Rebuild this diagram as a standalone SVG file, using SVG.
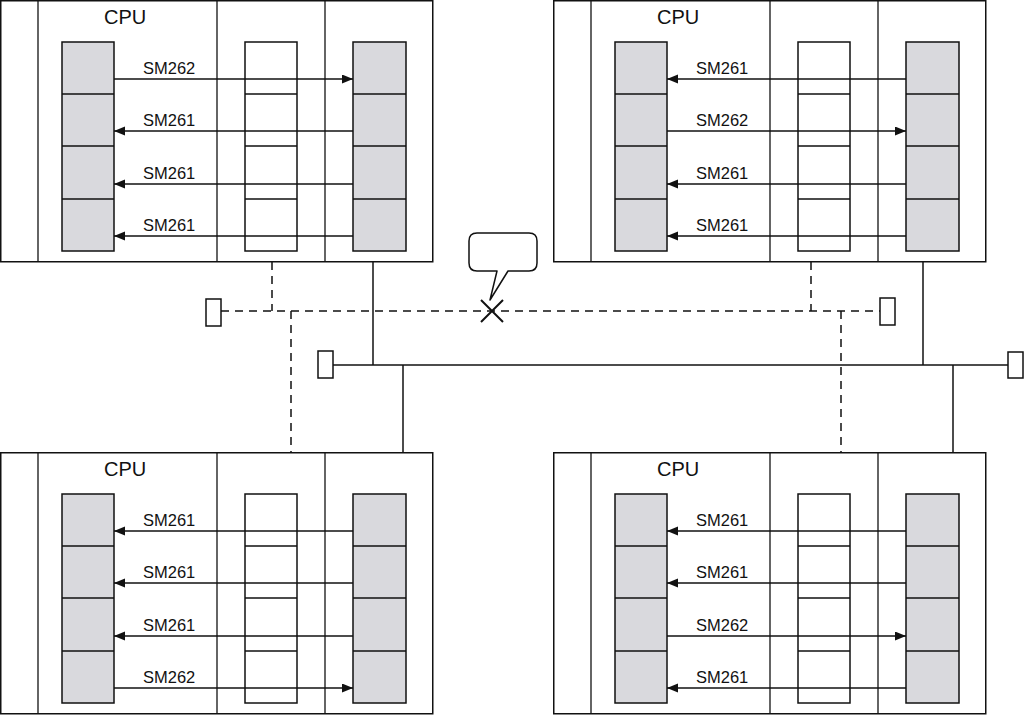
<svg xmlns="http://www.w3.org/2000/svg" xmlns:xlink="http://www.w3.org/1999/xlink" width="1024" height="715" viewBox="0 0 1024 715">
<style>
.frame{fill:#fff;stroke:#111;stroke-width:1.5}
.div{stroke:#111;stroke-width:1.3;fill:none}
.gray{fill:#d9d9dd;stroke:#111;stroke-width:1.5}
.white{fill:#fff;stroke:#111;stroke-width:1.5}
.sep{stroke:#111;stroke-width:1.3}
.arr{stroke:#111;stroke-width:1.3;fill:none}
.cpu{font-family:"Liberation Sans",Arial,sans-serif;font-size:20px;fill:#111}
.lbl{font-family:"Liberation Sans",Arial,sans-serif;font-size:16.5px;fill:#111}
.solid{stroke:#111;stroke-width:1.5;fill:none}
.dash{stroke:#111;stroke-width:1.5;fill:none;stroke-dasharray:8,6}
.term{fill:#fff;stroke:#111;stroke-width:1.5}
</style>
<defs>
<marker id="ah" markerUnits="userSpaceOnUse" markerWidth="12" markerHeight="10" refX="11" refY="4.5" orient="auto">
<path d="M0,0 L11,4.5 L0,9 z" fill="#111"/>
</marker>
<g id="frame">
<rect class="frame" x="0.75" y="0.75" width="432" height="261"/>
<line class="div" x1="38" y1="1" x2="38" y2="262"/>
<line class="div" x1="217" y1="1" x2="217" y2="262"/>
<line class="div" x1="325" y1="1" x2="325" y2="262"/>
<rect class="gray" x="62" y="42" width="52" height="209"/>
<rect class="white" x="245" y="42" width="52" height="209"/>
<rect class="gray" x="353" y="42" width="53" height="209"/>
<path class="sep" d="M62,94H114M62,146H114M62,199H114M245,94H297M245,146H297M245,199H297M353,94H406M353,146H406M353,199H406"/>
<text class="cpu" x="104" y="24">CPU</text>
</g>
</defs>

<g id="cpu-top-left">
<use xlink:href="#frame"/>
<line class="arr" x1="114" y1="79" x2="353" y2="79" marker-end="url(#ah)"/>
<line class="arr" x1="353" y1="131" x2="114" y2="131" marker-end="url(#ah)"/>
<line class="arr" x1="353" y1="184" x2="114" y2="184" marker-end="url(#ah)"/>
<line class="arr" x1="353" y1="236" x2="114" y2="236" marker-end="url(#ah)"/>
<text class="lbl" x="143" y="74">SM262</text>
<text class="lbl" x="143" y="126">SM261</text>
<text class="lbl" x="143" y="179">SM261</text>
<text class="lbl" x="143" y="231">SM261</text>
</g>

<g id="cpu-top-right" transform="translate(553,0)">
<use xlink:href="#frame"/>
<line class="arr" x1="353" y1="79" x2="114" y2="79" marker-end="url(#ah)"/>
<line class="arr" x1="114" y1="131" x2="353" y2="131" marker-end="url(#ah)"/>
<line class="arr" x1="353" y1="184" x2="114" y2="184" marker-end="url(#ah)"/>
<line class="arr" x1="353" y1="236" x2="114" y2="236" marker-end="url(#ah)"/>
<text class="lbl" x="143" y="74">SM261</text>
<text class="lbl" x="143" y="126">SM262</text>
<text class="lbl" x="143" y="179">SM261</text>
<text class="lbl" x="143" y="231">SM261</text>
</g>

<g id="cpu-bottom-left" transform="translate(0,452)">
<use xlink:href="#frame"/>
<line class="arr" x1="353" y1="79" x2="114" y2="79" marker-end="url(#ah)"/>
<line class="arr" x1="353" y1="131" x2="114" y2="131" marker-end="url(#ah)"/>
<line class="arr" x1="353" y1="184" x2="114" y2="184" marker-end="url(#ah)"/>
<line class="arr" x1="114" y1="236" x2="353" y2="236" marker-end="url(#ah)"/>
<text class="lbl" x="143" y="74">SM261</text>
<text class="lbl" x="143" y="126">SM261</text>
<text class="lbl" x="143" y="179">SM261</text>
<text class="lbl" x="143" y="231">SM262</text>
</g>

<g id="cpu-bottom-right" transform="translate(553,452)">
<use xlink:href="#frame"/>
<line class="arr" x1="353" y1="79" x2="114" y2="79" marker-end="url(#ah)"/>
<line class="arr" x1="353" y1="131" x2="114" y2="131" marker-end="url(#ah)"/>
<line class="arr" x1="114" y1="184" x2="353" y2="184" marker-end="url(#ah)"/>
<line class="arr" x1="353" y1="236" x2="114" y2="236" marker-end="url(#ah)"/>
<text class="lbl" x="143" y="74">SM261</text>
<text class="lbl" x="143" y="126">SM261</text>
<text class="lbl" x="143" y="179">SM262</text>
<text class="lbl" x="143" y="231">SM261</text>
</g>

<g id="connectors">
<path class="dash" d="M221,311H880"/>
<path class="dash" d="M272,262V311"/>
<path class="dash" d="M291,311V452"/>
<path class="dash" d="M811,262V311"/>
<path class="dash" d="M841,311V452"/>
<path class="solid" d="M333,365H1008"/>
<path class="solid" d="M373,262V365"/>
<path class="solid" d="M403,365V452"/>
<path class="solid" d="M923,262V365"/>
<path class="solid" d="M953,365V452"/>
</g>

<g id="terminator-dashed-left"><rect class="term" x="206" y="299" width="15" height="27"/></g>
<g id="terminator-dashed-right"><rect class="term" x="880" y="298" width="15" height="27"/></g>
<g id="terminator-solid-left"><rect class="term" x="318" y="351" width="15" height="27"/></g>
<g id="terminator-solid-right"><rect class="term" x="1008" y="352" width="15" height="26"/></g>

<g id="break-marker">
<path d="M481,300L503,322M503,300L481,322" stroke="#111" stroke-width="2" fill="none"/>
</g>

<g id="callout">
<path d="M477,233H529Q537,233 537,241V263Q537,271 529,271H508L490,300L497,271H477Q469,271 469,263V241Q469,233 477,233Z" fill="#fff" stroke="#111" stroke-width="1.5" stroke-linejoin="round"/>
</g>
</svg>
